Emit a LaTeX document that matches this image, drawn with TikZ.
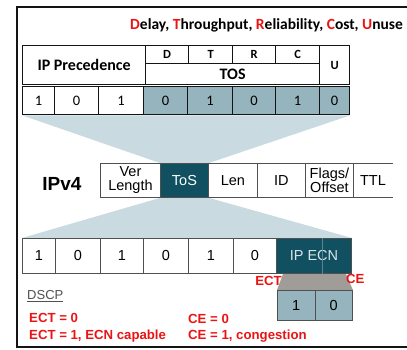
\documentclass[tikz,border=0pt]{standalone}
\usepackage{fontspec}
\setmainfont{Carlito}
\newfontfamily\arialf{Liberation Sans}
\usepackage{tikz}
\usetikzlibrary{positioning, calc, backgrounds}
\definecolor{ink}{RGB}{20,20,20}
\definecolor{wire}{RGB}{80,80,80}
\definecolor{shade}{RGB}{150,180,190}
\definecolor{deep}{RGB}{16,80,96}
\definecolor{haze}{RGB}{201,218,224}
\definecolor{stone}{RGB}{160,156,152}
\definecolor{alert}{RGB}{235,20,20}
\newcommand{\rl}[1]{\textcolor{alert}{#1}}

\begin{document}
\begin{tikzpicture}[
  x=1pt, y=-1pt,
  hdr/.style={draw=ink, line width=1.3pt, inner sep=0pt, anchor=north west,
              font=\bfseries\fontsize{16}{16}\selectfont},
  sub/.style={hdr, font=\bfseries\fontsize{12.5}{12}\selectfont},
  bit/.style={hdr, font=\fontsize{14.5}{14}\selectfont, minimum height=28pt},
  bitx/.style={bit, fill=shade},
  fld/.style={draw=wire, line width=0.9pt, inner sep=0pt, anchor=north west,
              minimum height=34pt, align=center,
              font=\arialf\fontsize{14.5}{14}\selectfont},
  low/.style={fld, minimum height=35pt, font=\arialf\fontsize{14.5}{14}\selectfont},
  ecnbit/.style={fld, fill=shade, minimum height=30pt, minimum width=37.5pt,
                 font=\arialf\fontsize{14.5}{14}\selectfont},
  red/.style={text=alert, font=\arialf\bfseries\fontsize{13.2}{14}\selectfont},
  funnel/.style={fill=haze}]

  \useasboundingbox (0,0) rectangle (407,350);

  % --- frame, open on the right
  \draw[ink, line width=1.2pt] (407,7) -- (17,7) -- (17,347) -- (407,347);

  \node[anchor=west, inner sep=0pt, font=\bfseries\fontsize{15.5}{16}\selectfont] (ttl) at (130,25)
    {\rl{D}elay, \rl{T}hroughput, \rl{R}eliability, \rl{C}ost, \rl{U}nuse};

  % --- ToS byte as precedence and TOS bits
  \node[hdr, minimum width=123pt, minimum height=39pt] (prec) at (22,45) {IP Precedence};
  \foreach \n/\x/\w in {D/145/43, T/188/44, R/232/43, C/275/44}
    \node[sub, minimum width=\w pt, minimum height=18pt] (\n) at (\x,45) {\n};
  \node[hdr, minimum width=174pt, minimum height=21pt] (tosb) at (145,63) {TOS};
  \node[sub, minimum width=30pt, minimum height=39pt] (U) at (319,45) {U};

  \foreach \n/\x/\w/\v in {1/22/32/1, 2/54/44/0, 3/98/45/1}
    \node[bit, minimum width=\w pt] (t\n) at (\x,86) {\v};
  \foreach \n/\x/\w/\v in {4/143/44/0, 5/187/45/1, 6/232/43/0, 7/275/44/1, 8/319/30/0}
    \node[bitx, minimum width=\w pt] (t\n) at (\x,86) {\v};

  % --- IPv4 header
  \node[font=\arialf\bfseries\fontsize{19}{19}\selectfont] (ipv) at (62,184) {IPv4};
  \node[fld, minimum width=60pt] (ver) at (100,163) {Ver\\Length};
  \node[fld, minimum width=48pt, fill=deep, text=white] (tos) at (160,163) {ToS};
  \node[fld, minimum width=49pt] (len) at (208,163) {Len};
  \node[fld, minimum width=48pt] (id) at (257,163) {ID};
  \node[fld, minimum width=48pt] (flg) at (305,163) {Flags/\\Offset};
  \node[fld, draw=none, minimum width=39pt] (ttlf) at (353,163) {TTL};
  \draw[wire, line width=0.9pt] (ttlf.north west) -- (ttlf.north east)
    (ttlf.south west) -- (ttlf.south east);

  % --- DSCP and ECN
  \foreach \n/\x/\w/\v in {1/22/33/1, 2/55/45/0, 3/100/43/1, 4/143/45/0, 5/188/45/1, 6/233/43/0}
    \node[low, minimum width=\w pt] (b\n) at (\x,238) {\v};
  \node[low, minimum width=75pt, fill=deep, text=white!85!deep] (ecn) at (276,238) {IP ECN};
  \draw[deep!70!white, line width=0.5pt] ($(ecn.north west)!0.61!(ecn.north east)$)
    -- ($(ecn.south west)!0.61!(ecn.south east)$);
  \node[ecnbit] (e1) at (277,290) {1};
  \node[ecnbit] (e2) at (314.5,290) {0};

  \node[red, anchor=north east, inner sep=0pt] (ect) at (282,276) {ECT};
  \node[red, anchor=north west, inner sep=0pt] (ce) at (346,274) {CE};
  \node[anchor=west, inner sep=0pt, text=wire, font=\arialf\fontsize{13}{14}\selectfont] (dscp) at (27,296) {\underline{DSCP}};
  \node[red, anchor=west, inner sep=0pt] (ect0) at (29,318) {ECT = 0};
  \node[red, anchor=west, inner sep=0pt] (ect1) at (29,336) {ECT = 1, ECN capable};
  \node[red, anchor=west, inner sep=0pt] (ce0) at (188,319) {CE = 0};
  \node[red, anchor=west, inner sep=0pt] (ce1) at (188,336) {CE = 1, congestion};

  % --- the funnels behind the rows
  \begin{scope}[on background layer]
    \fill[funnel] (t1.south west) -- (t8.south east) -- (tos.north east) -- (tos.north west) -- cycle;
    \fill[funnel] (tos.south west) -- (tos.south east) -- (ecn.north east) -- (b1.north west) -- cycle;
    \fill[stone] ($(ecn.south west)+(7,0)$) -- ($(ecn.south east)+(-6,0)$)
      -- (e2.north east) -- (e1.north west) -- cycle;
  \end{scope}
\end{tikzpicture}
\end{document}
